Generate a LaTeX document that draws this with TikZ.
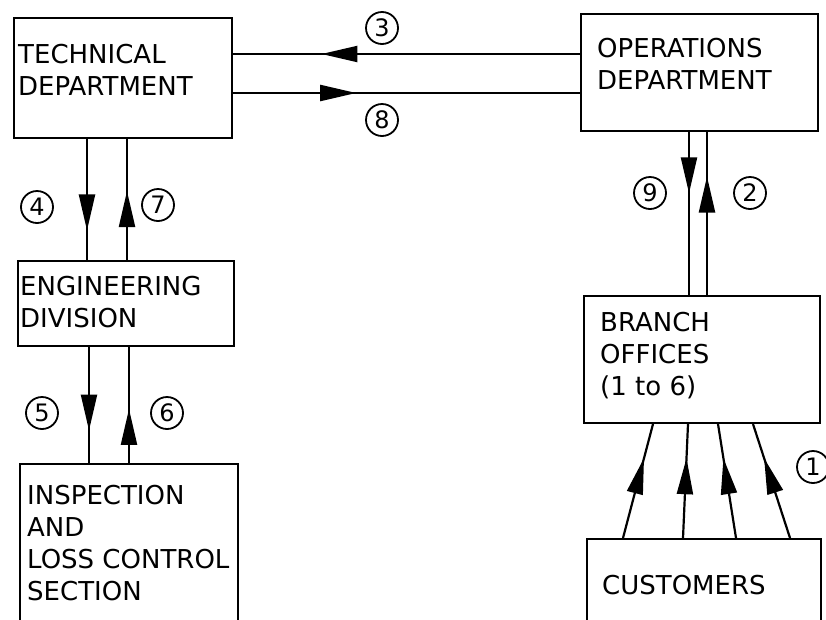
\documentclass[tikz,border=0pt]{standalone}
\usepackage{fontspec}
\setmainfont{DejaVu Sans}
\usetikzlibrary{arrows.meta,decorations.markings}
\tikzset{
  box/.style={draw, line width=2pt, rectangle, anchor=north west, inner sep=0pt},
  boxtext/.style={anchor=west, align=left, inner sep=0pt, font=\fontsize{26}{32}\selectfont},
  num/.style={draw, circle, line width=1.8pt, minimum size=32pt, inner sep=0pt, font=\fontsize{24}{24}\selectfont},
  flow/.style={line width=2.2pt},
  headat/.style={postaction={decorate, decoration={markings,
      mark=at position #1 with {\arrow{Triangle[length=36pt,width=16pt]}}}}}
}
\begin{document}
\begin{tikzpicture}[x=1pt,y=-1pt]
\clip (0,0) rectangle (826,619);
\fill[white] (0,0) rectangle (826,619);
% boxes
\node[box, minimum width=218pt, minimum height=120pt] (tech) at (13,17) {};
\node[box, minimum width=237pt, minimum height=117pt] (ops) at (580,13) {};
\node[box, minimum width=216pt, minimum height=85pt] (eng) at (17,260) {};
\node[box, minimum width=218pt, minimum height=200pt] (insp) at (19,463) {};
\node[box, minimum width=236pt, minimum height=127pt] (branch) at (583,295) {};
\node[box, minimum width=234pt, minimum height=120pt] (cust) at (586,538) {};
% texts
\node[boxtext] (techT) at (18,70) {TECHNICAL\\DEPARTMENT};
\node[boxtext] (opsT) at (597,63.5) {OPERATIONS\\DEPARTMENT};
\node[boxtext] (engT) at (20,302.5) {ENGINEERING\\DIVISION};
\node[boxtext] (inspT) at (27,543.5) {INSPECTION\\AND\\LOSS CONTROL\\SECTION};
\node[boxtext] (branchT) at (600,356) {BRANCH\\OFFICES\\(1 to 6)};
\node[boxtext] (custT) at (602,585) {CUSTOMERS};
% horizontal connectors
\draw[flow, headat=0.745] ([yshift=18.5pt]ops.west) -- ([yshift=24pt]tech.east);
\draw[flow, headat=0.355] ([yshift=-15pt]tech.east) -- ([yshift=-20.5pt]ops.west);
% tech <-> eng
\draw[flow, headat=0.756] ([xshift=-36pt]tech.south) -- ([xshift=-39pt]eng.north);
\draw[flow, headat=0.57] ([xshift=1pt]eng.north) -- ([xshift=4pt]tech.south);
% eng <-> insp
\draw[flow, headat=0.72] ([xshift=-37pt]eng.south) -- ([xshift=-40pt]insp.north);
\draw[flow, headat=0.466] ([xshift=0pt]insp.north) -- ([xshift=3pt]eng.south);
% ops <-> branch
\draw[flow, headat=0.376] ([xshift=-10.5pt]ops.south) -- ([xshift=-13pt]branch.north);
\draw[flow, headat=0.727] ([xshift=5pt]branch.north) -- ([xshift=7.5pt]ops.south);
% customers -> branch
\draw[flow, headat=0.70] ([xshift=-81pt]cust.north) -- ([xshift=-49pt]branch.south);
\draw[flow, headat=0.70] ([xshift=-21pt]cust.north) -- ([xshift=-14pt]branch.south);
\draw[flow, headat=0.70] ([xshift=32pt]cust.north) -- ([xshift=16pt]branch.south);
\draw[flow, headat=0.70] ([xshift=86pt]cust.north) -- ([xshift=51pt]branch.south);
% numbers
\node[num] (n1) at (813,467) {1};
\node[num] (n2) at (750,193) {2};
\node[num] (n3) at (382,28) {3};
\node[num] (n4) at (37,207) {4};
\node[num] (n5) at (42,413) {5};
\node[num] (n6) at (167,413) {6};
\node[num] (n7) at (158,205) {7};
\node[num] (n8) at (382,120) {8};
\node[num] (n9) at (650,193) {9};
\end{tikzpicture}
\end{document}
